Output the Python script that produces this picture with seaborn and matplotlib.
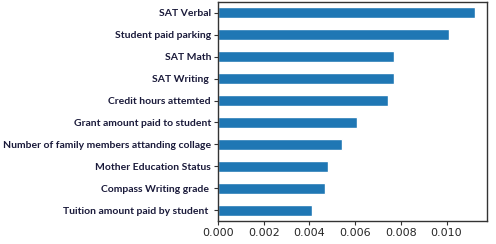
import matplotlib
matplotlib.use("Agg")
import matplotlib.pyplot as plt
import seaborn as sns
import pandas as pd

features = [
    "SAT Verbal",
    "Student paid parking",
    "SAT Math",
    "SAT Writing ",
    "Credit hours attemted",
    "Grant amount paid to student",
    "Number of family members attanding collage",
    "Mother Education Status",
    "Compass Writing grade ",
    "Tuition amount paid by student ",
]
importance = [0.01123, 0.01010, 0.00769, 0.00769, 0.00743,
              0.00607, 0.00541, 0.00480, 0.00467, 0.00410]
xticks = [0.000, 0.002, 0.004, 0.006, 0.008, 0.010]

df = pd.DataFrame({"feature": features, "importance": importance})

sns.set_style("white")
fig = plt.figure(figsize=(4.96, 2.44), dpi=100)
ax = fig.add_axes([218 / 496, 1 - 221 / 244, (487 - 218) / 496, (221 - 2) / 244])
sns.barplot(data=df, x="importance", y="feature", orient="h", color="#1f77b4",
            saturation=1, width=0.5, ax=ax)
ax.set_xlim(0, 0.01177)
ax.set_ylim(9.5, -0.5)
ax.set_xticks(xticks)
ax.set_xticklabels([f"{v:.3f}" for v in xticks], fontsize=8, family="DejaVu Sans")
ax.set_yticklabels(features, fontsize=7.5, family="Lato", fontweight="bold", color="#1a1a3a")
ax.set_xlabel("")
ax.set_ylabel("")
for s in ax.spines.values():
    s.set_visible(True)
    s.set_color("#333333")
    s.set_linewidth(1.0)
ax.tick_params(axis="both", which="both", length=3, width=0.8, color="#333333", pad=2,
               left=True, bottom=True)
fig.savefig("out.png", dpi=100)
